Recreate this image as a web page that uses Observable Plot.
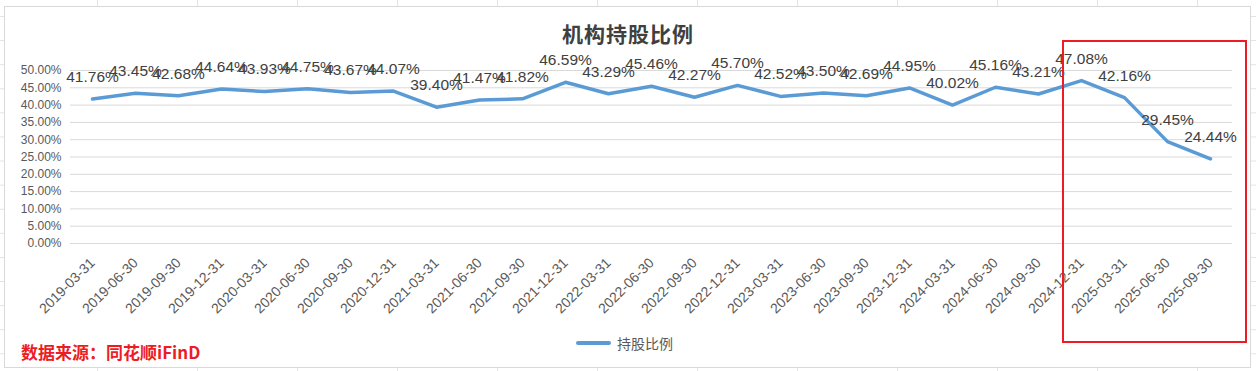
<!DOCTYPE html>
<html>
<head>
<meta charset="utf-8">
<script src="https://cdn.jsdelivr.net/npm/d3@7"></script>
<script src="https://cdn.jsdelivr.net/npm/@observablehq/plot@0.6"></script>
<style>
  html, body { margin: 0; padding: 0; }
  body {
    width: 1256px; height: 371px; position: relative; overflow: hidden;
    background-color: #fff;
    background-image:
      linear-gradient(to right, #e3e3e3 1px, transparent 1px),
      linear-gradient(to bottom, #e3e3e3 1px, transparent 1px);
    background-size: 100px 24.1px, 100px 24.1px;
    background-position: 97px 16px, 97px 16px;
    font-family: "Liberation Sans", Arial, "Noto Sans CJK SC", sans-serif;
  }
  #chartbox {
    position: absolute; left: 4px; top: 6px; width: 1245px; height: 360px;
    background: #fff; border: 1px solid #d9d9d9;
  }
  #plot { position: absolute; left: 0; top: 0; }
  #title {
    position: absolute; left: 0; width: 1256px; top: 19px; text-align: center;
    font-family: "Noto Sans CJK SC", sans-serif; font-weight: bold; font-size: 21px;
    color: #404040; line-height: 28px; letter-spacing: 1px;
  }
  #legend {
    position: absolute; left: 576px; top: 333px; height: 20px; display: flex; align-items: center;
    font-family: "Noto Sans CJK SC", sans-serif; font-size: 14px; color: #595959;
  }
  #legend .sw { width: 35px; height: 4px; background: #5b9bd5; border-radius: 2px; margin-right: 6px; }
  #source {
    position: absolute; left: 21px; top: 340px;
    font-family: "Noto Sans CJK SC", sans-serif; font-weight: bold; font-size: 17px;
    color: #ed1c24; line-height: 24px;
  }
  #highlight {
    position: absolute; left: 1062px; top: 40px; width: 181px; height: 299px;
    border: 2px solid #ed1c24;
  }
</style>
</head>
<body>
<div id="chartbox"></div>
<div id="plot"></div>
<div id="title">机构持股比例</div>
<div id="legend"><div class="sw"></div><span>持股比例</span></div>
<div id="source">数据来源：同花顺iFinD</div>
<div id="highlight"></div>
<script>
const dates = [
  "2019-03-31","2019-06-30","2019-09-30","2019-12-31",
  "2020-03-31","2020-06-30","2020-09-30","2020-12-31",
  "2021-03-31","2021-06-30","2021-09-30","2021-12-31",
  "2022-03-31","2022-06-30","2022-09-30","2022-12-31",
  "2023-03-31","2023-06-30","2023-09-30","2023-12-31",
  "2024-03-31","2024-06-30","2024-09-30","2024-12-31",
  "2025-03-31","2025-06-30","2025-09-30"
];
const holdingRatio = [
  41.76, 43.45, 42.68, 44.64,
  43.93, 44.75, 43.67, 44.07,
  39.40, 41.47, 41.82, 46.59,
  43.29, 45.46, 42.27, 45.70,
  42.52, 43.50, 42.69, 44.95,
  40.02, 45.16, 43.21, 47.08,
  42.16, 29.45, 24.44
];
const yTicks = [0, 0.05, 0.10, 0.15, 0.20, 0.25, 0.30, 0.35, 0.40, 0.45, 0.50];

const data = dates.map((d, i) => ({date: d, value: holdingRatio[i] / 100}));
const pct = d3.format(".2%");

const chart = Plot.plot({
  width: 1256,
  height: 371,
  marginLeft: 70,
  marginRight: 24,
  marginTop: 70,
  marginBottom: 128,
  style: {background: "transparent", fontFamily: "Liberation Sans, Arial, sans-serif", color: "#595959"},
  x: {type: "point", domain: dates, padding: 0.5, label: null},
  y: {domain: [0, 0.5], label: null},
  marks: [
    Plot.gridY(yTicks, {stroke: "#d9d9d9", strokeOpacity: 1}),
    Plot.axisY(yTicks, {tickFormat: pct, tickSize: 0, tickPadding: 9, fontSize: 12, fill: "#595959", style: "letter-spacing:0.8px"}),
    Plot.axisX({tickRotate: -45, tickSize: 0, tickPadding: 17, fontSize: 14, fill: "#595959"}),
    Plot.line(data, {x: "date", y: "value", stroke: "#5b9bd5", strokeWidth: 3.5, strokeLinejoin: "round", strokeLinecap: "round"}),
    Plot.text(data, {x: "date", y: "value", text: d => pct(d.value), dy: -22, fontSize: 15.5, fill: "#404040"})
  ]
});
document.getElementById("plot").appendChild(chart);
</script>
</body>
</html>
